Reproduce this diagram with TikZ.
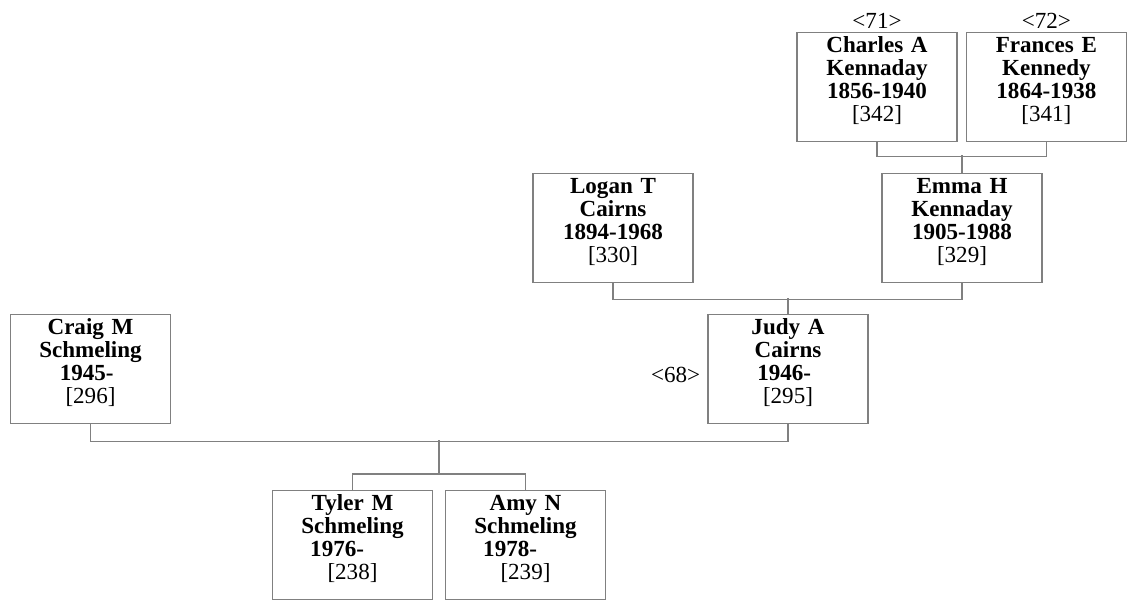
\documentclass[tikz,border=0pt]{standalone}
\usepackage{fontspec}
\setmainfont{Liberation Serif}
\tikzset{
  person/.style={draw=gray, line width=0.9pt, anchor=north, text width=3.8cm, align=center,
    minimum width=4cm, inner xsep=0pt, inner ysep=0pt, text height=14.2pt, text depth=63.3pt,
    font=\fontsize{16.4}{16.4}\selectfont},
  link/.style={draw=gray, line width=0.9pt},
  refno/.style={font=\fontsize{16.4}{16.4}\selectfont, inner sep=0pt}
}
\begin{document}
\begin{tikzpicture}
\clip (0,0) rectangle (28.225,14.975);

\node[person, label={[refno, label distance=2pt]above:<71>}] (charles) at (21.925,14.175) {\textbf{Charles A}\\\textbf{Kennaday}\\\textbf{1856-1940}\\{}[342]};
\node[person, label={[refno, label distance=2pt]above:<72>}] (frances) at (26.16,14.175) {\textbf{Frances E}\\\textbf{Kennedy}\\\textbf{1864-1938}\\{}[341]};

\node[person] (emma) at (24.05,10.65) {\textbf{Emma H}\\\textbf{Kennaday}\\\textbf{1905-1988}\\{}[329]};
\node[person] (logan) at (15.325,10.65) {\textbf{Logan T}\\\textbf{Cairns}\\\textbf{1894-1968}\\{}[330]};

\node[person, label={[refno, label distance=5pt, yshift=-0.15cm]left:<68>}] (judy) at (19.7,7.125) {\textbf{Judy A}\\\textbf{Cairns}\\\textbf{1946-}\hphantom{-}\\{}[295]};
\node[person] (craig) at (2.2625,7.125) {\textbf{Craig M}\\\textbf{Schmeling}\\\textbf{1945-}\hphantom{-}\\{}[296]};

\node[person] (tyler) at (8.8125,2.725) {\textbf{Tyler M}\\\textbf{Schmeling}\\\textbf{1976-}\hphantom{00-}\\{}[238]};
\node[person] (amy) at (13.1375,2.725) {\textbf{Amy N}\\\textbf{Schmeling}\\\textbf{1978-}\hphantom{00-}\\{}[239]};

% parents of Emma
\draw[link] (charles.south) -- ++(0,-0.35) -| (frances.south);
\draw[link] (emma.north) -- ++(0,0.45);

% parents of Judy
\draw[link] (logan.south) -- ++(0,-0.4) -| (emma.south);
\draw[link] (judy.north) -- ++(0,0.4);

% Craig and Judy
\draw[link] (craig.south) -- ++(0,-0.425) -| (judy.south);
\draw[link] (tyler.north) -- ++(0,0.4) coordinate (kids) -| (amy.north);
\draw[link] (kids -| 10.975,0) -- ++(0,0.85);
\end{tikzpicture}
\end{document}
